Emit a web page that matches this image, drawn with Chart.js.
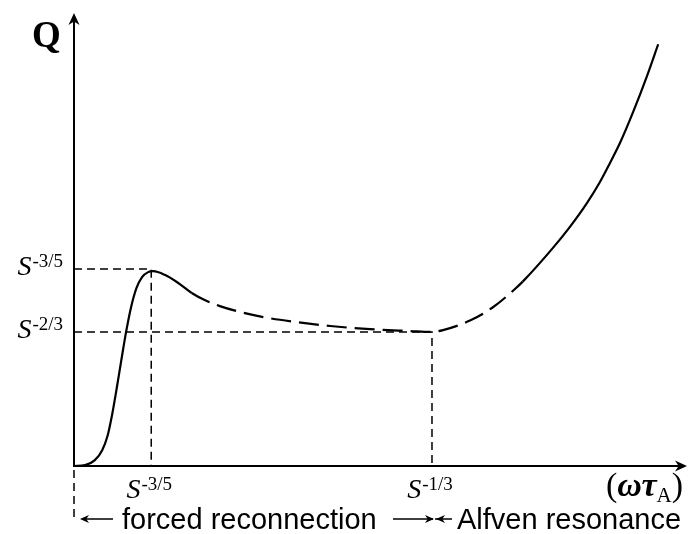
<!DOCTYPE html>
<html>
<head>
<meta charset="utf-8">
<script src="https://cdn.jsdelivr.net/npm/chart.js@4/dist/chart.umd.min.js"></script>
<style>
	html, body { margin: 0; padding: 0; background: #fff; }
	.chartBox { width: 689px; height: 534px; }
</style>
</head>
<body>
<div class="chartBox"><canvas id="myChart"></canvas></div>
<script>
// Q vs (omega tau_A), arbitrary units
const curveX = [0, 0.18, 0.34, 0.46, 0.55, 0.62, 0.69, 0.77, 0.85, 0.93, 1.02, 1.11, 1.21, 1.29, 1.48, 1.70,
	1.92, 2.14, 2.38, 2.71, 3.12, 3.61, 4.18, 4.83, 5.48, 5.84, 6.02, 6.46, 6.84, 7.18,
	7.32, 7.81, 8.09, 8.37, 8.58, 8.74, 8.91, 9.12, 9.35, 9.53];
const curveQ = [0, 0.02, 0.13, 0.35, 0.68, 1.12, 1.66, 2.32, 2.96, 3.50, 3.93, 4.17, 4.28, 4.30, 4.22, 4.04,
	3.82, 3.66, 3.53, 3.40, 3.28, 3.18, 3.09, 3.02, 2.98, 2.96, 3.00, 3.21, 3.51, 3.89,
	4.07, 4.81, 5.28, 5.81, 6.27, 6.68, 7.14, 7.81, 8.62, 9.31];

// part of the curve drawn dashed
const dashFrom = 1.92;
const dashTo = 7.32;

// marked values on the axes
const xTicks = [1.26, 5.84];
const xTickLabels = ['-3/5', '-1/3'];
const yTicks = [4.35, 2.96];
const yTickLabels = ['-3/5', '-2/3'];

const regionLabels = ['forced reconnection', 'Alfven resonance'];

const SERIF = '"Liberation Serif", "DejaVu Serif", serif';
const SANS = '"Liberation Sans", Arial, sans-serif';

function drawPower(ctx, x, y, sup, align) {
	ctx.font = 'italic 28px ' + SERIF;
	const wb = ctx.measureText('S').width;
	ctx.font = '19px ' + SERIF;
	const ws = ctx.measureText(sup).width;
	let left = x;
	if (align === 'right') left = x - wb - ws - 1;
	if (align === 'center') left = x - (wb + ws + 1) / 2;
	ctx.textAlign = 'left';
	ctx.textBaseline = 'alphabetic';
	ctx.font = 'italic 28px ' + SERIF;
	ctx.fillText('S', left, y);
	ctx.font = '19px ' + SERIF;
	ctx.fillText(sup, left + wb + 1, y - 8);
}

function arrowHead(ctx, x, y, dir, len, half) {
	// dir: 1 = pointing right, -1 = left, 'up'
	ctx.beginPath();
	if (dir === 'up') {
		ctx.moveTo(x, y);
		ctx.lineTo(x - half, y + len);
		ctx.lineTo(x, y + len * 0.7);
		ctx.lineTo(x + half, y + len);
	} else {
		ctx.moveTo(x, y);
		ctx.lineTo(x - dir * len, y - half);
		ctx.lineTo(x - dir * len * 0.7, y);
		ctx.lineTo(x - dir * len, y + half);
	}
	ctx.closePath();
	ctx.fill();
}

const sketchPlugin = {
	id: 'sketch',
	afterDraw(chart) {
		const ctx = chart.ctx;
		const area = chart.chartArea;
		const xs = chart.scales.x;
		const ys = chart.scales.y;
		ctx.save();
		ctx.fillStyle = '#000';
		ctx.strokeStyle = '#000';

		// axes with arrows
		ctx.lineWidth = 2;
		ctx.setLineDash([]);
		ctx.beginPath();
		ctx.moveTo(area.left, area.bottom);
		ctx.lineTo(area.left, area.top + 5);
		ctx.moveTo(area.left - 1, area.bottom);
		ctx.lineTo(area.right - 5, area.bottom);
		ctx.stroke();
		arrowHead(ctx, area.left, area.top, 'up', 12, 5.5);
		arrowHead(ctx, area.right, area.bottom, 1, 12, 5.5);

		// axis titles
		ctx.textBaseline = 'alphabetic';
		ctx.textAlign = 'left';
		ctx.font = 'bold 37px ' + SERIF;
		ctx.fillText('Q', 32, 47);

		let tx = 606;
		ctx.font = '34px ' + SERIF;
		ctx.fillText('(', tx, 496);
		tx += ctx.measureText('(').width;
		ctx.font = 'bold italic 34px ' + SERIF;
		ctx.fillText('ωτ', tx, 496);
		tx += ctx.measureText('ωτ').width;
		ctx.font = '21px ' + SERIF;
		ctx.fillText('A', tx, 502);
		tx += ctx.measureText('A').width;
		ctx.font = '34px ' + SERIF;
		ctx.fillText(')', tx, 496);

		// tick labels
		yTicks.forEach((v, i) => drawPower(ctx, 63, ys.getPixelForValue(v) + 6, yTickLabels[i], 'right'));
		xTicks.forEach((v, i) => drawPower(ctx, xs.getPixelForValue(v) - 2, 498, xTickLabels[i], 'center'));

		// region marker below the axis
		ctx.lineWidth = 1.5;
		ctx.setLineDash([8, 5]);
		ctx.beginPath();
		ctx.moveTo(area.left, area.bottom + 4);
		ctx.lineTo(area.left, 522);
		ctx.stroke();
		ctx.setLineDash([]);

		const ay = 519;
		const xb = xs.getPixelForValue(xTicks[1]);
		ctx.lineWidth = 1.5;
		ctx.beginPath();
		ctx.moveTo(area.left + 8, ay);
		ctx.lineTo(area.left + 39, ay);
		ctx.moveTo(xb - 39, ay);
		ctx.lineTo(xb + 1, ay);
		ctx.moveTo(xb + 3, ay);
		ctx.lineTo(xb + 20, ay);
		ctx.stroke();
		arrowHead(ctx, area.left + 6, ay, -1, 9, 4);
		arrowHead(ctx, xb + 2, ay, 1, 9, 4);
		arrowHead(ctx, xb + 4, ay, -1, 9, 4);

		ctx.font = '29px ' + SANS;
		ctx.fillText(regionLabels[0], 122, 529);
		ctx.fillText(regionLabels[1], xb + 25, 529);

		ctx.restore();
	},
};

const curve = curveX.map((x, i) => ({ x: x, y: curveQ[i] }));
const peakGuide = [
	{ x: 0, y: yTicks[0] },
	{ x: xTicks[0], y: yTicks[0] },
	{ x: xTicks[0], y: 0 },
];
const minGuide = [
	{ x: 0, y: yTicks[1] },
	{ x: xTicks[1], y: yTicks[1] },
	{ x: xTicks[1], y: 0 },
];

const data = {
	datasets: [
		{
			label: 'Q',
			data: curve,
			borderColor: '#000',
			borderWidth: 2.2,
			pointRadius: 0,
			cubicInterpolationMode: 'monotone',
			segment: {
				borderDash: (c) =>
					c.p0.parsed.x >= dashFrom - 1e-6 && c.p1.parsed.x <= dashTo + 1e-6 ? [20, 8] : undefined,
			},
			order: 0,
		},
		{
			label: 'peak',
			data: peakGuide,
			borderColor: '#000',
			borderWidth: 1.5,
			borderDash: [8, 5],
			pointRadius: 0,
			tension: 0,
			order: 1,
		},
		{
			label: 'min',
			data: minGuide,
			borderColor: '#000',
			borderWidth: 1.5,
			borderDash: [8, 5],
			pointRadius: 0,
			tension: 0,
			order: 1,
		},
	],
};

const config = {
	type: 'line',
	data,
	options: {
		responsive: true,
		maintainAspectRatio: false,
		animation: false,
		layout: {
			padding: { left: 74, right: 2, top: 13, bottom: 68 },
		},
		plugins: {
			legend: { display: false },
			tooltip: { enabled: false },
		},
		scales: {
			x: { type: 'linear', min: 0, max: 10, display: false },
			y: { type: 'linear', min: 0, max: 10, display: false },
		},
	},
	plugins: [sketchPlugin],
};

const myChart = new Chart(document.getElementById('myChart'), config);
</script>
</body>
</html>
